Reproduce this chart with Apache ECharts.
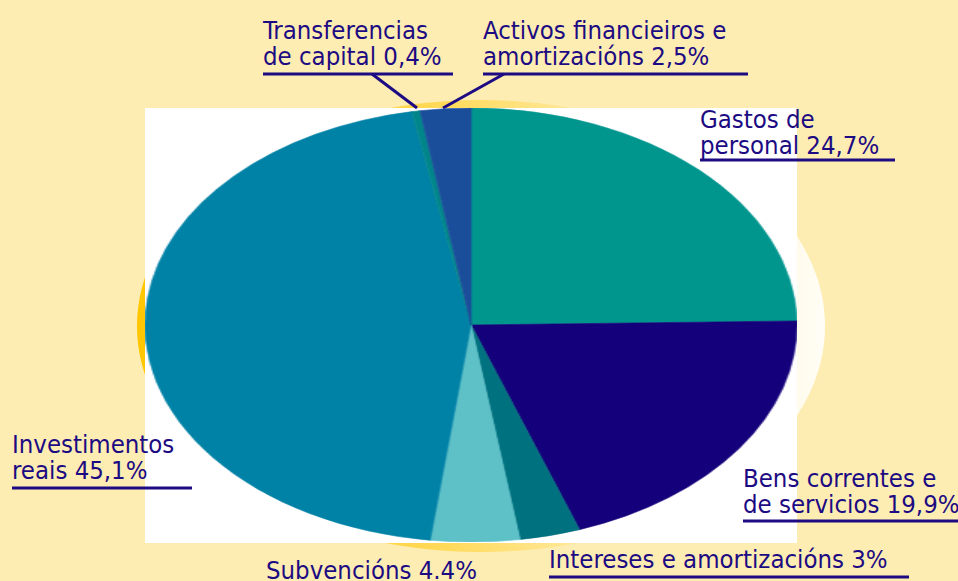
<!DOCTYPE html>
<html>
<head>
<meta charset="utf-8">
<script src="https://cdn.jsdelivr.net/npm/echarts@6/dist/echarts.min.js"></script>
<style>
  html, body { margin: 0; padding: 0; background: #FEEDB3; overflow: hidden; }
  #main { position: absolute; left: 0; top: 0; width: 958px; height: 581px; }
  #pie { position: absolute; left: 254px; top: 108px; width: 434px; height: 434px;
         transform: scaleX(1.502); transform-origin: 50% 50%; }
</style>
</head>
<body>
<div id="main"></div>
<div id="pie"></div>
<script>
// ---- data ----
const categories = ['Gastos de personal', 'Bens correntes e de servicios', 'Intereses e amortizacións', 'Subvencións', 'Investimentos reais', 'Transferencias de capital', 'Activos financieiros e amortizacións'];
const values = [24.7, 19.9, 3, 4.4, 45.1, 0.4, 2.5];
const labelTexts = ['Gastos de\npersonal 24,7%', 'Bens correntes e\nde servicios 19,9%', 'Intereses e amortizacións 3%', 'Subvencións 4.4%', 'Investimentos\nreais 45,1%', 'Transferencias\nde capital 0,4%', 'Activos financieiros e\namortizacións 2,5%'];
const sliceColors = ['#00968E', '#14007A', '#00717F', '#5EC1C8', '#0082A6', '#00868A', '#1B4E9A'];

// ---- styling / layout ----
const FONT = '"DejaVu Sans Condensed", "Liberation Sans Narrow", "DejaVu Sans", sans-serif';
const INK = '#1C0B82';
const FS = 25.5;
const labelPos = [
  { x: 700, y: 106, ux: [700, 895], uy: 160 },
  { x: 743, y: 465, ux: [743, 958], uy: 521 },
  { x: 549, y: 546, ux: [549, 909], uy: 577 },
  { x: 266, y: 557, ux: null },
  { x: 12,  y: 431, ux: [12, 192], uy: 488 },
  { x: 263, y: 17,  ux: [263, 453], uy: 74, lead: [372, 74, 417, 108] },
  { x: 483, y: 17,  ux: [483, 748], uy: 74, lead: [504, 74, 443, 108] }
];

const graphics = [
  { type: 'ellipse', z: 0, shape: { cx: 481, cy: 326, rx: 344, ry: 226 },
    style: { fill: new echarts.graphic.LinearGradient(0, 0, 1, 0, [
      { offset: 0, color: '#FFC600' }, { offset: 0.45, color: '#FFDA5A' }, { offset: 0.75, color: '#FFF0C0' }, { offset: 1, color: '#FFFDF6' }]) } },
  { type: 'rect', z: 1, shape: { x: 145, y: 108, width: 652, height: 435 }, style: { fill: '#FFFFFF' } }
];
labelTexts.forEach((t, i) => {
  const p = labelPos[i];
  graphics.push({ type: 'text', z: 5, x: p.x, y: p.y,
    style: { text: t, font: FS + 'px ' + FONT, fontSize: FS, fontFamily: FONT, fill: INK, lineHeight: 26, verticalAlign: 'top', align: 'left' } });
  if (p.ux) graphics.push({ type: 'line', z: 5, shape: { x1: p.ux[0], y1: p.uy, x2: p.ux[1], y2: p.uy }, style: { stroke: INK, lineWidth: 3 } });
  if (p.lead) graphics.push({ type: 'line', z: 5, shape: { x1: p.lead[0], y1: p.lead[1], x2: p.lead[2], y2: p.lead[3] }, style: { stroke: INK, lineWidth: 3 } });
});

const main = echarts.init(document.getElementById('main'), null, { renderer: 'svg' });
main.setOption({ animation: false, backgroundColor: '#FEEDB3', graphic: graphics });

const pie = echarts.init(document.getElementById('pie'), null, { renderer: 'canvas' });
pie.setOption({
  animation: false,
  series: [{
    type: 'pie', center: ['50%', '50%'], radius: [0, 217], startAngle: 90, clockwise: true,
    label: { show: false }, labelLine: { show: false }, silent: true,
    data: categories.map((c, i) => ({ name: c, value: values[i],
      itemStyle: { color: sliceColors[i], borderColor: sliceColors[i], borderWidth: 0.6 } }))
  }]
});
</script>
</body>
</html>
